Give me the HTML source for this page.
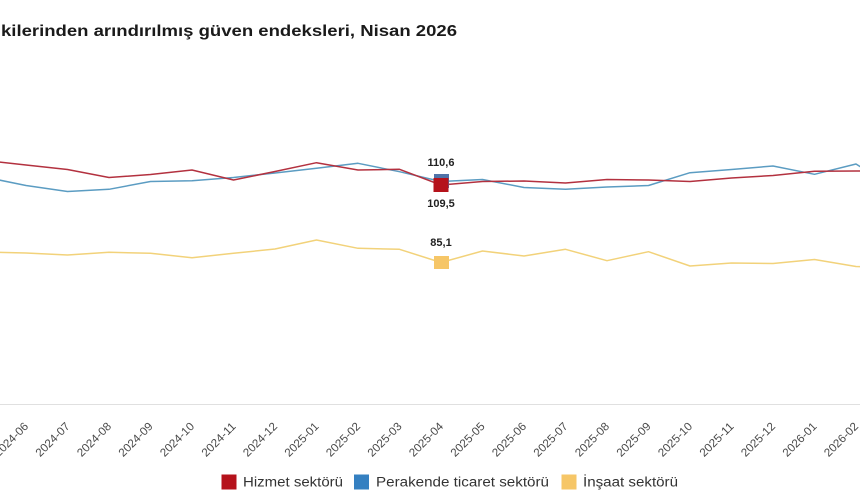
<!DOCTYPE html>
<html>
<head>
<meta charset="utf-8">
<style>
html,body{margin:0;padding:0;background:#fff;}
svg{display:block;}
</style>
</head>
<body>
<svg width="860" height="504" viewBox="0 0 860 504" xmlns="http://www.w3.org/2000/svg">
<rect width="860" height="504" fill="#ffffff"/>
<text x="1" y="36" font-family="Liberation Sans, sans-serif" font-weight="bold" font-size="16" fill="#1a1a1a" textLength="456" lengthAdjust="spacingAndGlyphs">kilerinden arındırılmış güven endeksleri, Nisan 2026</text>

<line x1="0" y1="404.5" x2="860" y2="404.5" stroke="#e0e0e0" stroke-width="1"/>

<polyline fill="none" stroke="#f2d27a" stroke-width="1.5" stroke-linejoin="round" points="-15.5,252 26,253 67.5,255 109,252.3 150.5,253.3 192,257.7 233.5,253.3 275,249 316.5,240 358,248.3 399.5,249.3 441,262.5 482.5,251 524,256 565.5,249.3 607,260.7 648.5,251.7 690,266 731.5,263 773,263.5 814.5,259.5 856,266.5 897,268"/>
<polyline fill="none" stroke="#5b9cc2" stroke-width="1.5" stroke-linejoin="round" points="-15.5,177 26,185.5 67.5,191.5 109,189.3 150.5,181.5 192,180.7 233.5,177.5 275,173 316.5,168.3 358,163.3 399.5,171.7 441,181.5 482.5,179.5 524,187.5 565.5,189.3 607,187 648.5,185.5 690,172.7 731.5,169.5 773,166 814.5,174.3 856,164 897,190"/>
<polyline fill="none" stroke="#b3313f" stroke-width="1.5" stroke-linejoin="round" points="-15.5,160.5 26,165 67.5,169.5 109,177.5 150.5,174.5 192,170 233.5,180 275,171.5 316.5,162.7 358,170 399.5,169.3 441,185 482.5,181.5 524,181 565.5,183 607,179.5 648.5,180 690,181.5 731.5,178 773,175.5 814.5,171.3 856,171 897,171"/>

<rect x="434" y="174" width="15" height="14" fill="#4f72a8"/>
<rect x="433.5" y="178" width="15" height="14" fill="#b5121b"/>
<rect x="434" y="256" width="15" height="13" fill="#f6c667"/>

<g font-family="Liberation Sans, sans-serif" font-weight="bold" font-size="11" fill="#222" text-anchor="middle">
<text x="441" y="166">110,6</text>
<text x="441" y="207">109,5</text>
<text x="441" y="246">85,1</text>
</g>

<g font-family="Liberation Sans, sans-serif" font-size="11.5" fill="#4a4a4a" text-anchor="end">
<text transform="translate(29,427) rotate(-45)" textLength="43" lengthAdjust="spacingAndGlyphs">2024-06</text>
<text transform="translate(70.5,427) rotate(-45)" textLength="43" lengthAdjust="spacingAndGlyphs">2024-07</text>
<text transform="translate(112,427) rotate(-45)" textLength="43" lengthAdjust="spacingAndGlyphs">2024-08</text>
<text transform="translate(153.5,427) rotate(-45)" textLength="43" lengthAdjust="spacingAndGlyphs">2024-09</text>
<text transform="translate(195,427) rotate(-45)" textLength="43" lengthAdjust="spacingAndGlyphs">2024-10</text>
<text transform="translate(236.5,427) rotate(-45)" textLength="43" lengthAdjust="spacingAndGlyphs">2024-11</text>
<text transform="translate(278,427) rotate(-45)" textLength="43" lengthAdjust="spacingAndGlyphs">2024-12</text>
<text transform="translate(319.5,427) rotate(-45)" textLength="43" lengthAdjust="spacingAndGlyphs">2025-01</text>
<text transform="translate(361,427) rotate(-45)" textLength="43" lengthAdjust="spacingAndGlyphs">2025-02</text>
<text transform="translate(402.5,427) rotate(-45)" textLength="43" lengthAdjust="spacingAndGlyphs">2025-03</text>
<text transform="translate(444,427) rotate(-45)" textLength="43" lengthAdjust="spacingAndGlyphs">2025-04</text>
<text transform="translate(485.5,427) rotate(-45)" textLength="43" lengthAdjust="spacingAndGlyphs">2025-05</text>
<text transform="translate(527,427) rotate(-45)" textLength="43" lengthAdjust="spacingAndGlyphs">2025-06</text>
<text transform="translate(568.5,427) rotate(-45)" textLength="43" lengthAdjust="spacingAndGlyphs">2025-07</text>
<text transform="translate(610,427) rotate(-45)" textLength="43" lengthAdjust="spacingAndGlyphs">2025-08</text>
<text transform="translate(651.5,427) rotate(-45)" textLength="43" lengthAdjust="spacingAndGlyphs">2025-09</text>
<text transform="translate(693,427) rotate(-45)" textLength="43" lengthAdjust="spacingAndGlyphs">2025-10</text>
<text transform="translate(734.5,427) rotate(-45)" textLength="43" lengthAdjust="spacingAndGlyphs">2025-11</text>
<text transform="translate(776,427) rotate(-45)" textLength="43" lengthAdjust="spacingAndGlyphs">2025-12</text>
<text transform="translate(817.5,427) rotate(-45)" textLength="43" lengthAdjust="spacingAndGlyphs">2026-01</text>
<text transform="translate(859,427) rotate(-45)" textLength="43" lengthAdjust="spacingAndGlyphs">2026-02</text>
</g>

<rect x="221.5" y="474.5" width="15" height="15" fill="#b5121b"/>
<rect x="354" y="474.5" width="15" height="15" fill="#3580c1"/>
<rect x="561.5" y="474.5" width="15" height="15" fill="#f6c667"/>
<g font-family="Liberation Sans, sans-serif" font-size="13.5" fill="#333">
<text x="243" y="486.5" textLength="100" lengthAdjust="spacingAndGlyphs">Hizmet sektörü</text>
<text x="376" y="486.5" textLength="173" lengthAdjust="spacingAndGlyphs">Perakende ticaret sektörü</text>
<text x="583" y="486.5" textLength="95" lengthAdjust="spacingAndGlyphs">İnşaat sektörü</text>
</g>
</svg>
</body>
</html>
